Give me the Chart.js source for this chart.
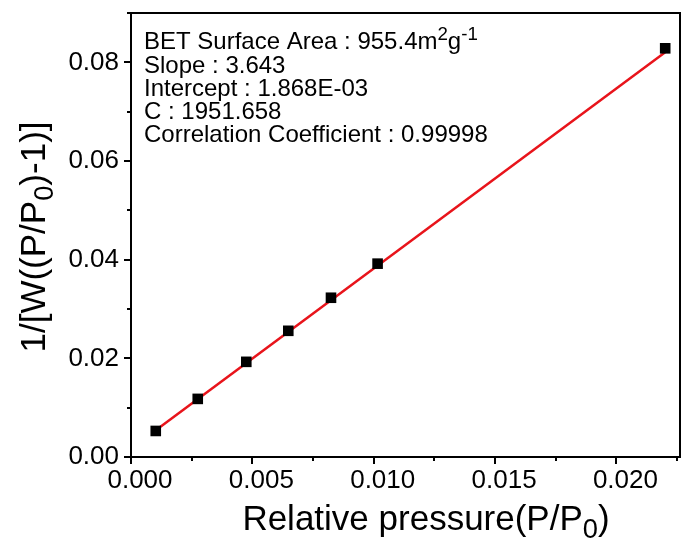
<!DOCTYPE html>
<html>
<head>
<meta charset="utf-8">
<script src="https://cdn.jsdelivr.net/npm/chart.js@4.4.1/dist/chart.umd.min.js"></script>
<style>
  html, body { margin: 0; padding: 0; background: #fff; overflow: hidden; }
  canvas { display: block; }
</style>
</head>
<body>
<canvas id="betChart" width="681" height="540"></canvas>
<script>
// ===== BET PLOT =====

// measured points (relative pressure, 1/[W((P/P0)-1)])
const pressure = [0.00102, 0.00275, 0.00475, 0.00648, 0.00824, 0.01016, 0.02201];
const betValue = [0.00528, 0.01178, 0.01929, 0.02558, 0.03228, 0.03919, 0.08284];

// linear fit end points
const fitX = [0.00102, 0.02201];
const fitY = [0.00540, 0.08205];

// tick steps (every other tick is a labelled major tick)
const xTickStep = 0.0025;
const yTickStep = 0.01;

// text in the box
const infoLines = [
    [['BET Surface Area : 955.4m'], ['2', 'sup'], ['g'], ['-1', 'sup']],
    [['Slope : 3.643']],
    [['Intercept : 1.868E-03']],
    [['C : 1951.658']],
    [['Correlation Coefficient : 0.99998']]
];
const xTitle = [['Relative pressure(P/P'], ['0', 'sub'], [')']];
const yTitle = [['1/[W((P/P'], ['0', 'sub'], [')-1)]']];

const FONT = '"Liberation Sans", Arial, sans-serif';

// width of a line with sub / superscripts
function richWidth(ctx, segs, size){
    let w = 0;
    segs.forEach(s => {
        const sz = s[1] ? size * 0.78 : size;
        ctx.font = sz + 'px ' + FONT;
        w += ctx.measureText(s[0]).width;
    });
    return w;
}

function drawRich(ctx, segs, x, y, size){
    segs.forEach(s => {
        let sz = size, dy = 0;
        if(s[1] === 'sup'){ sz = size * 0.78; dy = -size * 0.38; }
        if(s[1] === 'sub'){ sz = size * 0.78; dy = size * 0.22; }
        ctx.font = sz + 'px ' + FONT;
        ctx.fillText(s[0], x, y + dy);
        x += ctx.measureText(s[0]).width;
    });
}

function isMajor(v, step){
    return Math.round(v / step) % 2 === 0;
}

function noPadding(scale){
    scale.paddingTop = 0;
    scale.paddingBottom = 0;
    scale.paddingLeft = 0;
    scale.paddingRight = 0;
}

const framePlugin = {
    id: 'frame',
    afterDraw(chart){
        const ctx = chart.ctx;
        const a = chart.chartArea;
        const xs = chart.scales.x;
        const ys = chart.scales.y;
        ctx.save();

        // box round the plot
        ctx.strokeStyle = '#000';
        ctx.lineWidth = 2;
        ctx.strokeRect(a.left, a.top, a.right - a.left, a.bottom - a.top);

        // ticks, major longer than minor
        ctx.beginPath();
        for(let i = 0; i * xTickStep <= xs.max + 1e-9; i++){
            const px = Math.round(xs.getPixelForValue(i * xTickStep));
            const len = i % 2 === 0 ? 7 : 4;
            ctx.moveTo(px, a.bottom);
            ctx.lineTo(px, a.bottom + len);
        }
        for(let i = 0; i * yTickStep <= ys.max + 1e-9; i++){
            const py = Math.round(ys.getPixelForValue(i * yTickStep));
            const len = i % 2 === 0 ? 7 : 4;
            ctx.moveTo(a.left, py);
            ctx.lineTo(a.left - len, py);
        }
        ctx.stroke();

        ctx.fillStyle = '#000';
        ctx.textBaseline = 'alphabetic';
        ctx.textAlign = 'left';

        // info text
        const baselines = [49, 73, 96, 119, 142];
        infoLines.forEach((line, i) => drawRich(ctx, line, 144, baselines[i], 24));

        // x title
        const ts = 35;
        const xw = richWidth(ctx, xTitle, ts);
        drawRich(ctx, xTitle, 426 - xw / 2, 530, ts);

        // y title
        const yw = richWidth(ctx, yTitle, ts);
        ctx.translate(45, 237);
        ctx.rotate(-Math.PI / 2);
        drawRich(ctx, yTitle, -yw / 2, 0, ts);

        ctx.restore();
    }
};

const ctx = document.getElementById('betChart');

new Chart(ctx, {
    type: 'scatter',

    data: {
        datasets: [
            {
                label: 'data',
                data: pressure.map((p, i) => ({ x: p, y: betValue[i] })),
                pointStyle: 'rect',
                pointRadius: 7.5,
                pointBackgroundColor: '#000',
                pointBorderWidth: 0,
                showLine: false,
                order: 1
            },
            {
                label: 'fit',
                data: fitX.map((p, i) => ({ x: p, y: fitY[i] })),
                showLine: true,
                borderColor: '#e8141b',
                borderWidth: 2.5,
                pointRadius: 0,
                order: 2
            }
        ]
    },

    options: {
        responsive: false,
        animation: false,

        layout: {
            autoPadding: false,
            padding: { top: 13, right: 1, left: 0, bottom: 0 }
        },

        plugins: {
            legend: { display: false },
            tooltip: { enabled: false }
        },

        scales: {
            x: {
                type: 'linear',
                min: 0,
                max: 0.02262,
                afterFit(scale){ scale.height = 83; noPadding(scale); },
                ticks: {
                    stepSize: xTickStep,
                    color: '#000',
                    padding: 1,
                    labelOffset: 9,
                    maxRotation: 0,
                    autoSkip: false,
                    font: { family: FONT, size: 26 },
                    callback: v => isMajor(v, xTickStep) ? v.toFixed(3) : ''
                },
                grid: {
                    drawOnChartArea: false,
                    tickColor: 'rgba(0,0,0,0)',
                    tickLength: 7
                },
                border: { display: true, color: '#000', width: 2 }
            },
            y: {
                type: 'linear',
                min: 0,
                max: 0.09,
                afterFit(scale){ scale.width = 131; noPadding(scale); },
                ticks: {
                    stepSize: yTickStep,
                    color: '#000',
                    padding: 5,
                    autoSkip: false,
                    font: { family: FONT, size: 26 },
                    callback: v => isMajor(v, yTickStep) ? v.toFixed(2) : ''
                },
                grid: {
                    drawOnChartArea: false,
                    tickColor: 'rgba(0,0,0,0)',
                    tickLength: 7
                },
                border: { display: true, color: '#000', width: 2 }
            }
        }
    },

    plugins: [framePlugin]
});
</script>
</body>
</html>
